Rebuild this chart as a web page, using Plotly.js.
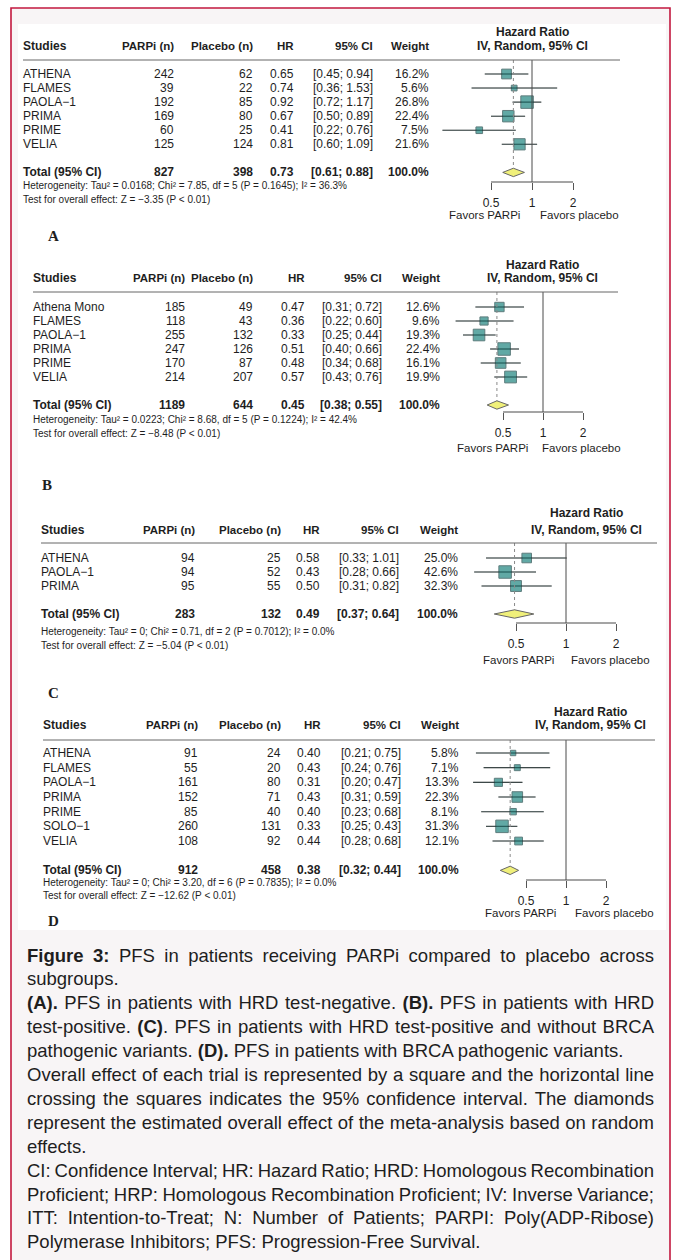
<!DOCTYPE html>
<html><head><meta charset="utf-8">
<script src="https://cdn.plot.ly/plotly-3.0.1.min.js"></script>
<style>html,body{margin:0;padding:0;background:#fff}#chart{width:673px;height:1260px}</style>
</head><body><div id="chart"></div>
<script>
// ---------------- DATA ----------------
// Panel A: HRD test-negative
const studiesA = ['ATHENA', 'FLAMES', 'PAOLA\u22121', 'PRIMA', 'PRIME', 'VELIA'];
const parpiA = [242, 39, 192, 169, 60, 125];
const placeboA = [62, 22, 85, 80, 25, 124];
const hrA = [0.65, 0.74, 0.92, 0.67, 0.41, 0.81];
const loA = [0.45, 0.36, 0.72, 0.50, 0.22, 0.60];
const hiA = [0.94, 1.53, 1.17, 0.89, 0.76, 1.09];
const weightA = [16.2, 5.6, 26.8, 22.4, 7.5, 21.6];
const totalA = [827, 398, 0.73, 0.61, 0.88];
const hetA = 'Heterogeneity: Tau\u00b2 = 0.0168; Chi\u00b2 = 7.85, df = 5 (P = 0.1645); I\u00b2 = 36.3%';
const testA = 'Test for overall effect: Z = \u22123.35 (P < 0.01)';

// Panel B: HRD test-positive
const studiesB = ['Athena Mono', 'FLAMES', 'PAOLA\u22121', 'PRIMA', 'PRIME', 'VELIA'];
const parpiB = [185, 118, 255, 247, 170, 214];
const placeboB = [49, 43, 132, 126, 87, 207];
const hrB = [0.47, 0.36, 0.33, 0.51, 0.48, 0.57];
const loB = [0.31, 0.22, 0.25, 0.40, 0.34, 0.43];
const hiB = [0.72, 0.60, 0.44, 0.66, 0.68, 0.76];
const weightB = [12.6, 9.6, 19.3, 22.4, 16.1, 19.9];
const totalB = [1189, 644, 0.45, 0.38, 0.55];
const hetB = 'Heterogeneity: Tau\u00b2 = 0.0223; Chi\u00b2 = 8.68, df = 5 (P = 0.1224); I\u00b2 = 42.4%';
const testB = 'Test for overall effect: Z = \u22128.48 (P < 0.01)';

// Panel C: HRD test-positive without BRCA pathogenic variants
const studiesC = ['ATHENA', 'PAOLA\u22121', 'PRIMA'];
const parpiC = [94, 94, 95];
const placeboC = [25, 52, 55];
const hrC = [0.58, 0.43, 0.50];
const loC = [0.33, 0.28, 0.31];
const hiC = [1.01, 0.66, 0.82];
const weightC = [25.0, 42.6, 32.3];
const totalC = [283, 132, 0.49, 0.37, 0.64];
const hetC = 'Heterogeneity: Tau\u00b2 = 0; Chi\u00b2 = 0.71, df = 2 (P = 0.7012); I\u00b2 = 0.0%';
const testC = 'Test for overall effect: Z = \u22125.04 (P < 0.01)';

// Panel D: BRCA pathogenic variants
const studiesD = ['ATHENA', 'FLAMES', 'PAOLA\u22121', 'PRIMA', 'PRIME', 'SOLO\u22121', 'VELIA'];
const parpiD = [91, 55, 161, 152, 85, 260, 108];
const placeboD = [24, 20, 80, 71, 40, 131, 92];
const hrD = [0.40, 0.43, 0.31, 0.43, 0.40, 0.33, 0.44];
const loD = [0.21, 0.24, 0.20, 0.31, 0.23, 0.25, 0.28];
const hiD = [0.75, 0.76, 0.47, 0.59, 0.68, 0.43, 0.68];
const weightD = [5.8, 7.1, 13.3, 22.3, 8.1, 31.3, 12.1];
const totalD = [912, 458, 0.38, 0.32, 0.44];
const hetD = 'Heterogeneity: Tau\u00b2 = 0; Chi\u00b2 = 3.20, df = 6 (P = 0.7835); I\u00b2 = 0.0%';
const testD = 'Test for overall effect: Z = \u221212.62 (P < 0.01)';

const panelLetters = ['A', 'B', 'C', 'D'];
const tickVals = [0.5, 1, 2];
const tickLabels = ['0.5', '1', '2'];
const colHeaders = ['Studies', 'PARPi (n)', 'Placebo (n)', 'HR', '95% CI', 'Weight'];
const forestTitle = ['Hazard Ratio', 'IV, Random, 95% CI'];
const favorsLabels = ['Favors PARPi', 'Favors placebo'];
const totalLabel = 'Total (95% CI)';

const captionLines = [
  '<b>Figure 3:</b> PFS in patients receiving PARPi compared to placebo across',
  'subgroups.',
  '<b>(A).</b> PFS in patients with HRD test-negative. <b>(B).</b> PFS in patients with HRD',
  'test-positive. <b>(C)</b>. PFS in patients with HRD test-positive and without BRCA',
  'pathogenic variants. <b>(D).</b> PFS in patients with BRCA pathogenic variants.',
  'Overall effect of each trial is represented by a square and the horizontal line',
  'crossing the squares indicates the 95% confidence interval. The diamonds',
  'represent the estimated overall effect of the meta-analysis based on random',
  'effects.',
  'CI: Confidence Interval; HR: Hazard Ratio; HRD: Homologous Recombination',
  'Proficient; HRP: Homologous Recombination Proficient; IV: Inverse Variance;',
  'ITT: Intention-to-Treat; N: Number of Patients; PARPI: Poly(ADP-Ribose)',
  'Polymerase Inhibitors; PFS: Progression-Free Survival.'
];
const captionJustify = [true, false, true, true, false, true, true, true, false, true, true, true, false];

// ---------------- LAYOUT GEOMETRY (pixels) ----------------
const W = 673, H = 1260;
const FONT = 'Liberation Sans, Arial, Helvetica, sans-serif';
const SERIF = 'Liberation Serif, Times New Roman, serif';
const TXT = '#1e1e1e';

const geo = [
  {titleY: 32, headY: 46, lineY: 60, lineX: [23, 620], row0: 74, step: 14.06, totIdx: 7, hetY: 185, testY: 199,
   axisY: 182, favY: 215, cols: [23, 174, 253, 294, 373, 429], titleX: 532, p1: 532, dbl: 41, dom: [440, 645],
   favX: [484, 579], letter: [48, 236]},
  {titleY: 265, headY: 278, lineY: 292, lineX: [33, 618], row0: 307, step: 14.0, totIdx: 7, hetY: 420, testY: 433,
   axisY: 412, favY: 448, cols: [33, 185, 253, 305, 382, 440], titleX: 542, p1: 543, dbl: 40, dom: [440, 645],
   favX: [493, 581], letter: [42, 485]},
  {titleY: 513, headY: 530, lineY: 543, lineX: [41, 657], row0: 558, step: 14.0, totIdx: 4, hetY: 631, testY: 645,
   axisY: 623, favY: 660, cols: [41, 195, 281, 320, 399, 458], titleX: 586, p1: 566, dbl: 50, dom: [445, 665],
   favX: [518, 610], letter: [48, 693]},
  {titleY: 712, headY: 725, lineY: 740, lineX: [43, 655], row0: 753, step: 14.67, totIdx: 8, hetY: 883, testY: 895,
   axisY: 880, favY: 913, cols: [43, 198, 281, 321, 401, 459], titleX: 590, p1: 566, dbl: 40, dom: [445, 665],
   favX: [520, 614], letter: [48, 921]}
];

const panels = [
  {s: studiesA, p: parpiA, c: placeboA, hr: hrA, lo: loA, hi: hiA, w: weightA, tot: totalA, het: hetA, test: testA},
  {s: studiesB, p: parpiB, c: placeboB, hr: hrB, lo: loB, hi: hiB, w: weightB, tot: totalB, het: hetB, test: testB},
  {s: studiesC, p: parpiC, c: placeboC, hr: hrC, lo: loC, hi: hiC, w: weightC, tot: totalC, het: hetC, test: testC},
  {s: studiesD, p: parpiD, c: placeboD, hr: hrD, lo: loD, hi: hiD, w: weightD, tot: totalD, het: hetD, test: testD}
];

const px = x => x / W;
const py = y => 1 - y / H;

function txt(text, x, y, o) {
  o = o || {};
  return {
    xref: 'paper', yref: 'paper', x: px(x), y: py(y), text: text, showarrow: false,
    xanchor: o.anchor || 'left', yanchor: 'middle',
    align: o.anchor === 'right' ? 'right' : (o.anchor === 'center' ? 'center' : 'left'),
    borderpad: 0, borderwidth: 0,
    font: {family: o.family || FONT, size: o.size || 12, color: o.color || TXT}
  };
}

const traces = [];
const annotations = [];
const shapes = [];
const layout = {
  width: W, height: H, margin: {l: 0, r: 0, t: 0, b: 0},
  paper_bgcolor: '#ffffff', plot_bgcolor: 'rgba(0,0,0,0)', showlegend: false,
  annotations: annotations, shapes: shapes
};

// page background, figure area, crimson frame
shapes.push({type: 'rect', xref: 'paper', yref: 'paper', x0: px(11), x1: px(670), y0: py(1270), y1: py(8),
  fillcolor: '#f8f5f6', line: {width: 0}, layer: 'below'});
shapes.push({type: 'rect', xref: 'paper', yref: 'paper', x0: px(18), x1: px(666), y0: py(930), y1: py(24),
  fillcolor: '#ffffff', line: {width: 0}, layer: 'below'});
shapes.push({type: 'rect', xref: 'paper', yref: 'paper', x0: px(11), x1: px(670), y0: py(1275), y1: py(8),
  fillcolor: 'rgba(0,0,0,0)', line: {width: 1.6, color: '#c2183f'}, layer: 'above'});

const L2 = Math.log10(2);
const HEAD = 11.5, ROW = 12, SMALL = 10;

panels.forEach((P, k) => {
  const g = geo[k];
  const sfx = k === 0 ? '' : String(k + 1);
  const xa = 'x' + sfx, ya = 'y' + sfx;
  const xKey = 'xaxis' + sfx, yKey = 'yaxis' + sfx;
  const yTop = (g.lineY - g.row0) / g.step;
  const yBot = (g.axisY - g.row0) / g.step;
  const idx = P.s.map((_, i) => i);

  layout[xKey] = {
    type: 'log', domain: [px(g.dom[0]), px(g.dom[1])],
    range: [(g.dom[0] - g.p1) / g.dbl * L2, (g.dom[1] - g.p1) / g.dbl * L2],
    anchor: ya, tickmode: 'array', tickvals: tickVals, ticktext: tickLabels,
    ticks: 'outside', ticklen: 7, tickwidth: 1, tickcolor: '#555',
    showline: false, showgrid: false, zeroline: false, fixedrange: true,
    tickfont: {family: FONT, size: 12, color: TXT}, ticklabelstandoff: 3
  };
  layout[yKey] = {
    domain: [py(g.axisY), py(g.lineY)], range: [yBot, yTop], anchor: xa,
    showticklabels: false, ticks: '', showline: false, showgrid: false, zeroline: false, fixedrange: true
  };

  // CI lines
  const cx = [], cy = [];
  idx.forEach(i => { cx.push(P.lo[i], P.hi[i], null); cy.push(i, i, null); });
  // squares (side ~ sqrt(weight))
  const maxW = Math.max.apply(null, P.w);
  const sizes = P.w.map(v => 12.5 * Math.sqrt(v / maxW));
  traces.push({type: 'scatter', mode: 'lines', x: cx, y: cy, xaxis: xa, yaxis: ya,
    line: {color: '#555555', width: 1.1}, hoverinfo: 'skip', cliponaxis: false});
  traces.push({type: 'scatter', mode: 'markers', x: P.hr, y: idx, xaxis: xa, yaxis: ya,
    marker: {symbol: 'square', size: sizes, color: '#1f8580', line: {color: '#1b4747', width: 1}},
    hoverinfo: 'skip', cliponaxis: false});
  traces.push({type: 'scatter', mode: 'lines', x: cx, y: cy, xaxis: xa, yaxis: ya,
    line: {color: 'rgba(20,50,50,0.55)', width: 0.8}, hoverinfo: 'skip', cliponaxis: false});
  // summary diamond
  const T = g.totIdx, h = 4.2 / g.step;
  traces.push({type: 'scatter', mode: 'lines', fill: 'toself', xaxis: xa, yaxis: ya,
    x: [P.tot[3], P.tot[2], P.tot[4], P.tot[2], P.tot[3]], y: [T, T - h, T, T + h, T],
    fillcolor: '#f0f07a', line: {color: '#666666', width: 1}, hoverinfo: 'skip', cliponaxis: false});

  // reference line at HR = 1
  shapes.push({type: 'line', xref: xa, yref: ya + ' domain', x0: 1, x1: 1, y0: 0, y1: 1,
    line: {color: '#4a4a4a', width: 1}});
  // dotted line at pooled HR
  shapes.push({type: 'line', xref: xa, yref: ya, x0: P.tot[2], x1: P.tot[2], y0: yTop, y1: T - h,
    line: {color: '#8a8a8a', width: 1, dash: 'dot'}});
  // axis line from first to last tick
  shapes.push({type: 'line', xref: xa, yref: ya + ' domain', x0: tickVals[0], x1: tickVals[tickVals.length - 1], y0: 0, y1: 0,
    line: {color: '#4a4a4a', width: 1}});
  // header rule
  shapes.push({type: 'line', xref: 'paper', yref: 'paper', x0: px(g.lineX[0]), x1: px(g.lineX[1]), y0: py(g.lineY), y1: py(g.lineY),
    line: {color: '#666', width: 1}});

  // header texts
  annotations.push(txt('<b>' + forestTitle[0] + '</b>', g.titleX, g.titleY, {anchor: 'center', size: 12}));
  annotations.push(txt('<b>' + forestTitle[1] + '</b>', g.titleX, g.headY, {anchor: 'center', size: 12}));
  annotations.push(txt('<b>' + colHeaders[0] + '</b>', g.cols[0], g.headY, {size: 12}));
  for (let c = 1; c < colHeaders.length; c++) {
    annotations.push(txt('<b>' + colHeaders[c] + '</b>', g.cols[c], g.headY, {anchor: 'right', size: HEAD}));
  }
  // study rows
  idx.forEach(i => {
    const y = g.row0 + g.step * i;
    annotations.push(txt(P.s[i], g.cols[0], y, {size: ROW}));
    annotations.push(txt(String(P.p[i]), g.cols[1], y, {anchor: 'right', size: ROW}));
    annotations.push(txt(String(P.c[i]), g.cols[2], y, {anchor: 'right', size: ROW}));
    annotations.push(txt(P.hr[i].toFixed(2), g.cols[3], y, {anchor: 'right', size: ROW}));
    annotations.push(txt('[' + P.lo[i].toFixed(2) + '; ' + P.hi[i].toFixed(2) + ']', g.cols[4], y, {anchor: 'right', size: ROW}));
    annotations.push(txt(P.w[i].toFixed(1) + '%', g.cols[5], y, {anchor: 'right', size: ROW}));
  });
  // total row
  const ty = g.row0 + g.step * T;
  annotations.push(txt('<b>' + totalLabel + '</b>', g.cols[0], ty, {size: ROW}));
  annotations.push(txt('<b>' + P.tot[0] + '</b>', g.cols[1], ty, {anchor: 'right', size: ROW}));
  annotations.push(txt('<b>' + P.tot[1] + '</b>', g.cols[2], ty, {anchor: 'right', size: ROW}));
  annotations.push(txt('<b>' + P.tot[2].toFixed(2) + '</b>', g.cols[3], ty, {anchor: 'right', size: ROW}));
  annotations.push(txt('<b>[' + P.tot[3].toFixed(2) + '; ' + P.tot[4].toFixed(2) + ']</b>', g.cols[4], ty, {anchor: 'right', size: ROW}));
  annotations.push(txt('<b>' + P.w.reduce((a, b) => a + b, 0).toFixed(0) + '.0%</b>', g.cols[5], ty, {anchor: 'right', size: ROW}));
  // heterogeneity + test
  annotations.push(txt(P.het, g.cols[0], g.hetY, {size: SMALL}));
  annotations.push(txt(P.test, g.cols[0], g.testY, {size: SMALL}));
  // favors labels
  annotations.push(txt(favorsLabels[0], g.favX[0], g.favY, {anchor: 'center', size: 11.5}));
  annotations.push(txt(favorsLabels[1], g.favX[1], g.favY, {anchor: 'center', size: 11.5}));
  // panel letter
  annotations.push(txt('<b>' + panelLetters[k] + '</b>', g.letter[0], g.letter[1], {size: 15, family: SERIF}));
});

// caption
const capX0 = 27, capX1 = 654, capY0 = 955, capStep = 23.9;
const capStart = annotations.length;
captionLines.forEach((t, i) => {
  annotations.push(txt(t, capX0, capY0 + capStep * i, {size: 18.5}));
});

Plotly.newPlot('chart', traces, layout, {staticPlot: true}).then(gd => {
  captionLines.forEach((t, i) => {
    if (!captionJustify[i]) return;
    const el = gd.querySelector('g.annotation[data-index="' + (capStart + i) + '"] text.annotation-text');
    if (!el) return;
    const width = el.getComputedTextLength();
    const spaces = (el.textContent.match(/ /g) || []).length;
    const extra = (capX1 - capX0 - width) / spaces;
    el.style.wordSpacing = extra + 'px';
  });
});
</script>
</body></html>
